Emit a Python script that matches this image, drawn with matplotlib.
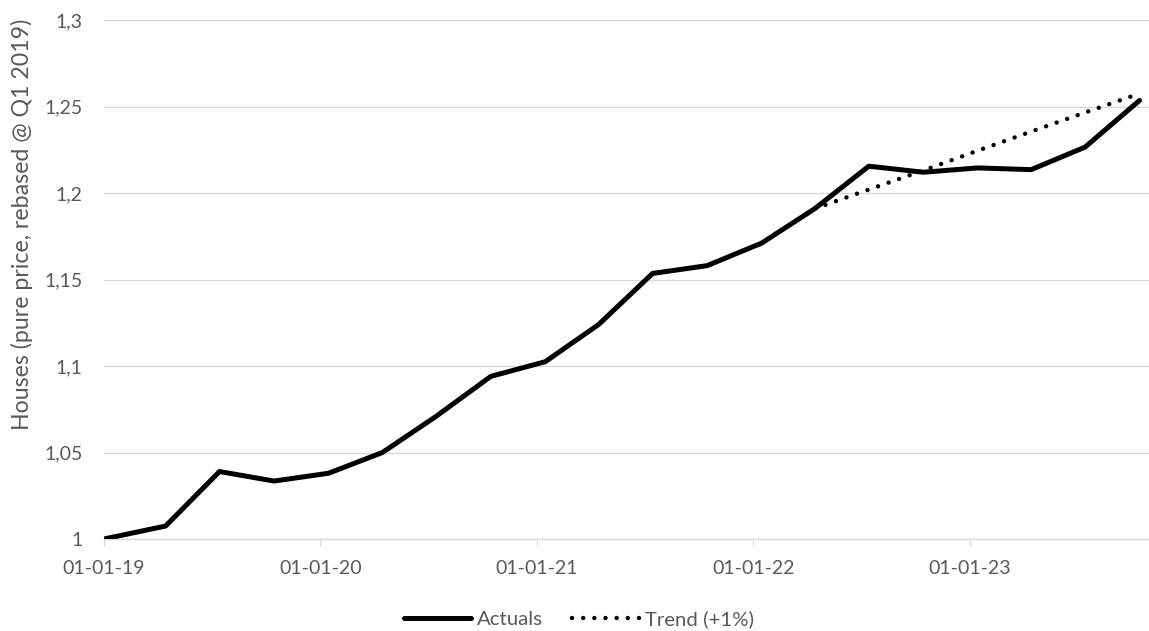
import matplotlib.pyplot as plt
import matplotlib.dates as mdates
from matplotlib.ticker import FuncFormatter, MultipleLocator
import pandas as pd

# quarterly house price index (pure price, rebased @ Q1 2019)
dates = ["2019-01-01", "2019-04-15", "2019-07-15", "2019-10-15",
         "2020-01-15", "2020-04-15", "2020-07-15", "2020-10-15",
         "2021-01-15", "2021-04-15", "2021-07-15", "2021-10-15",
         "2022-01-15", "2022-04-15", "2022-07-15", "2022-10-15",
         "2023-01-15", "2023-04-15", "2023-07-15", "2023-10-15"]
actuals = [1.000, 1.0075, 1.039, 1.0335, 1.038, 1.050, 1.071, 1.094,
           1.1025, 1.124, 1.1535, 1.158, 1.171, 1.191, 1.2155, 1.212,
           1.2145, 1.2135, 1.2265, 1.2535]

trend_dates = dates[13:]
trend = [1.191, 1.202, 1.213, 1.2245, 1.2355, 1.2465, 1.2575]

x = pd.to_datetime(dates)
xt = pd.to_datetime(trend_dates)

plt.rcParams["font.family"] = ["Lato", "DejaVu Sans"]
grey = "#595959"
light = "#d9d9d9"

fig = plt.figure(figsize=(11.49, 6.31), dpi=100)
ax = fig.add_axes([104 / 1149, 92 / 631, 1045 / 1149, 519 / 631])

ax.plot(x, actuals, color="black", lw=3.6, solid_joinstyle="round",
        solid_capstyle="round", label="Actuals", zorder=3)
ax.plot(xt, trend, color="black", lw=3.2, dashes=(0.01, 2.5),
        dash_capstyle="round", label="Trend (+1%)", zorder=4)

ax.set_ylim(1.0, 1.3)
ax.yaxis.set_major_locator(MultipleLocator(0.05))
ax.yaxis.set_major_formatter(FuncFormatter(lambda v, p: f"{v:.2f}".rstrip("0").rstrip(".").replace(".", ",")))
ax.set_xlim(pd.Timestamp("2019-01-01"), pd.Timestamp("2023-10-31"))
ax.xaxis.set_major_locator(mdates.YearLocator())
ax.xaxis.set_major_formatter(mdates.DateFormatter("%d-%m-%y"))

ax.grid(axis="y", color=light, lw=1)
ax.set_axisbelow(True)
for s in ["top", "right", "left"]:
    ax.spines[s].set_visible(False)
ax.spines["bottom"].set_color(light)
ax.spines["bottom"].set_linewidth(1)

ax.tick_params(axis="y", length=0, pad=15.5, labelsize=14, labelcolor=grey)
ax.tick_params(axis="x", length=5, color=light, pad=10, labelsize=14, labelcolor=grey)

ax.set_ylabel("Houses (pure price, rebased @ Q1 2019)", fontsize=16.7, color=grey)
ax.yaxis.set_label_coords(-0.068, 0.607)

fig.legend(loc="center", bbox_to_anchor=(579 / 1149, 1 - 619 / 631), ncol=2,
           frameon=False, fontsize=14.7, handlelength=3.3, columnspacing=1.4,
           handletextpad=0.3, labelcolor=grey)

fig.savefig("out.png", dpi=100)
